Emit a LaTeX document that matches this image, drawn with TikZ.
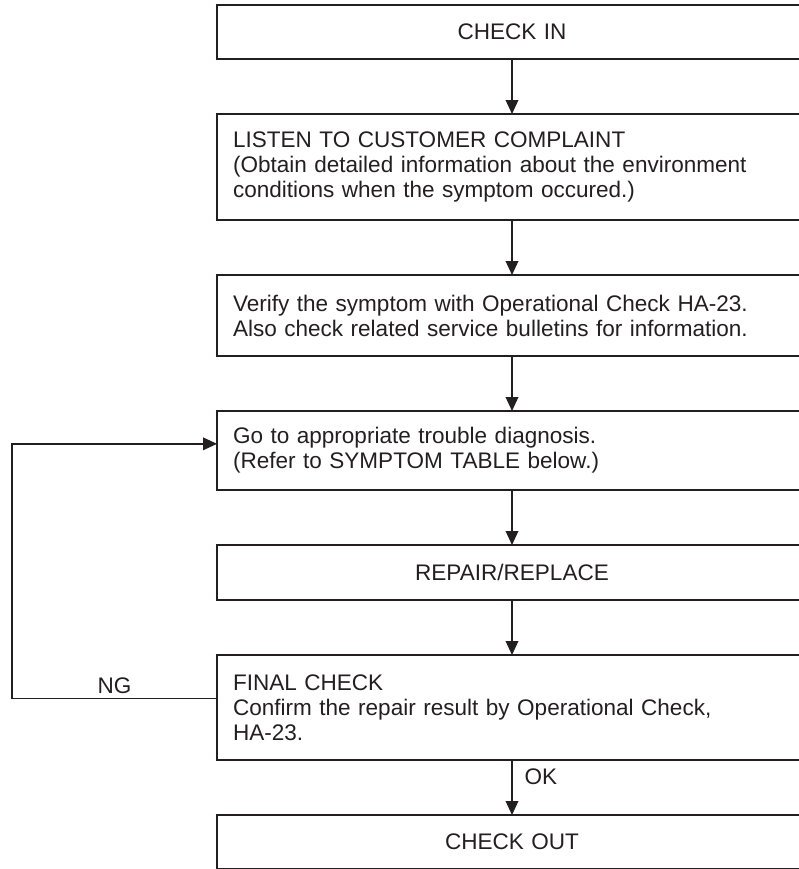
\documentclass[tikz,border=0pt]{standalone}
\usepackage{fontspec}
\setmainfont{Liberation Sans}
\usetikzlibrary{arrows.meta,positioning}
\definecolor{ink}{HTML}{231F20}

\begin{document}
\begin{tikzpicture}[x=0.75pt,y=-0.75pt,node distance=41.25pt]
   \tikzstyle{stepbox}=[draw=ink,text=ink,line width=1pt,minimum width=442.5pt,
      text width=418.5pt,inner xsep=12pt,outer sep=0pt,
      font=\fontsize{16.9}{18.75}\selectfont]
   \tikzstyle{ctr}=[stepbox,align=center]
   \tikzstyle{lft}=[stepbox,align=left]
   \tikzstyle{ar}=[draw=ink,line width=1pt,-{Triangle[length=10.5pt,width=9.5pt]}]
   \tikzstyle{lbl}=[text=ink,inner sep=3pt,font=\fontsize{16.9}{18.75}\selectfont]

   \useasboundingbox (0,0) rectangle (799,869);
   \clip (0,0) rectangle (799,869);

   \node (checkin) [ctr,minimum height=40.5pt] at (512,32) {CHECK IN};
   \node (listen) [lft,minimum height=79.5pt,below=of checkin]
      {LISTEN TO CUSTOMER COMPLAINT\\
       (Obtain detailed information about the environment\\
       conditions when the symptom occured.)};
   \node (verify) [lft,minimum height=60.75pt,below=of listen]
      {Verify the symptom with Operational Check HA-23.\\
       Also check related service bulletins for information.};
   \node (diag) [lft,minimum height=59.25pt,below=of verify]
      {Go to appropriate trouble diagnosis.\\
       (Refer to SYMPTOM TABLE below.)};
   \node (repair) [ctr,minimum height=41.25pt,below=of diag] {REPAIR/REPLACE};
   \node (final) [lft,minimum height=78.75pt,below=of repair]
      {FINAL CHECK\\
       Confirm the repair result by Operational Check,\\
       HA-23.};
   \node (checkout) [ctr,minimum height=40.5pt,below=of final] {CHECK OUT};

   \draw [ar] (checkin) -- (listen);
   \draw [ar] (listen) -- (verify);
   \draw [ar] (verify) -- (diag);
   \draw [ar] (diag) -- (repair);
   \draw [ar] (repair) -- (final);
   \draw [ar] (final) -- node [lbl,right=6pt,pos=0.3] {OK} (checkout);

   % NG loop back to diagnosis
   \coordinate (ngturn) at ([xshift=-153.75pt,yshift=7pt]final.west);
   \draw [ar] ([yshift=7pt]final.west) -- node [lbl,above] {NG} (ngturn)
      |- ([yshift=5pt]diag.west);
\end{tikzpicture}
\end{document}
